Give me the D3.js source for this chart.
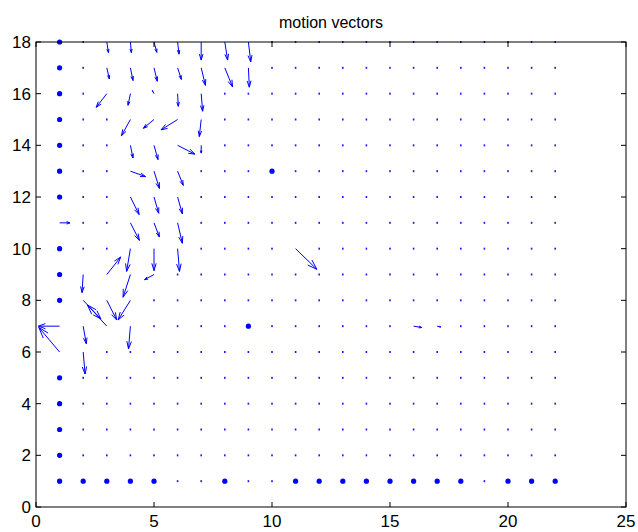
<!DOCTYPE html>
<html>
<head>
<meta charset="utf-8">
<script src="https://cdn.jsdelivr.net/npm/d3@7"></script>
<style>
  body { margin: 0; background: #fff; }
  text { font-family: "Liberation Sans", Arial, sans-serif; }
</style>
</head>
<body>
<svg width="638" height="532"></svg>
<script>
// grid of vector origins
const cols = [1,2,3,4,5,6,7,8,9,10,11,12,13,14,15,16,17,18,19,20,21,22];
const rows = [1,2,3,4,5,6,7,8,9,10,11,12,13,14,15,16,17,18];

// visible vectors: [x, y, u, v] (u, v already scaled, data units)
const vectors = [
  [3,18,0.07,-0.41],[4,18,0.04,-0.41],[5,18,0.12,-0.40],[6,18,0.06,-0.47],[7,18,0.0,-0.70],[8,18,0.12,-0.70],[9,18,0.1,-0.77],
  [3,17,0.11,-0.43],[4,17,0.11,-0.49],[5,17,0.14,-0.52],[6,17,0.16,-0.45],[7,17,0.18,-0.68],[8,17,0.33,-0.74],[9,17,0.04,-0.75],
  [3,16,-0.45,-0.53],[4,16,-0.1,-0.45],[5,16,-0.07,0.12],[6,16,0.03,-0.49],[7,16,0.06,-0.68],
  [4,15,-0.38,-0.63],[5,15,-0.45,-0.34],[6,15,-0.70,-0.40],[7,15,-0.08,-0.66],
  [4,14,0.11,-0.49],[5,14,0.17,-0.55],[6,14,0.73,-0.34],[7,14,0.0,-0.3],
  [4,13,0.64,-0.21],[5,13,0.23,-0.67],[6,13,0.24,-0.55],
  [4,12,0.37,-0.68],[5,12,0.2,-0.63],[6,12,0.2,-0.65],
  [1,11,0.44,0.0],[4,11,0.38,-0.68],[5,11,0.23,-0.55],[6,11,0.2,-0.79],
  [4,10,-0.16,-0.88],[5,10,0.0,-0.85],[6,10,0.08,-0.88],[11,10,0.9,-0.8],
  [2,9,-0.05,-0.7],[3,9,0.59,0.68],[4,9,-0.31,-0.88],[5,9,-0.4,-0.2],
  [2,8,0.75,-0.72],[3,8,0.42,-0.76],[4,8,-0.52,-0.76],
  [1,7,-0.9,0.0],[2,7,0.13,-0.68],[3,7,-0.82,0.82],[4,7,-0.08,-0.88],[16,7,0.34,-0.05],[17,7,0.15,-0.03],
  [1,6,-0.88,0.95],[2,6,0.08,-0.85]
];

// zero vectors drawn as large dots
const bigDots = [
  [1,18],[1,17],[1,16],[1,15],[1,14],[1,13],[1,12],[1,10],[1,9],[1,8],[1,5],[1,4],[1,3],[1,2],
  [1,1],[2,1],[3,1],[4,1],[5,1],[8,1],[11,1],[12,1],[13,1],[14,1],[15,1],[16,1],[17,1],[18,1],[20,1],[21,1],[22,1],
  [10,13],[9,7]
];

const xTicks = [0,5,10,15,20,25];
const yTicks = [0,2,4,6,8,10,12,14,16,18];

const svg = d3.select('svg');
const pLeft = 36, pRight = 626, pTop = 42, pBottom = 507;

const x = d3.scaleLinear().domain([0,25]).range([pLeft, pRight]);
const y = d3.scaleLinear().domain([0,18]).range([pBottom, pTop]);

const blue = '#0000ff';
const g = svg.append('g');

// small dots for near-zero vectors
const taken = new Set(vectors.map(d => d[0]+','+d[1]).concat(bigDots.map(d => d[0]+','+d[1])));
const small = [];
rows.forEach(r => cols.forEach(c => { if (!taken.has(c+','+r)) small.push([c,r]); }));

g.selectAll('.sm').data(small).enter().append('rect')
  .attr('x', d => x(d[0]) - 0.8)
  .attr('y', d => y(d[1]) - 1)
  .attr('width', 1.6).attr('height', 2)
  .attr('fill', blue).attr('opacity', 0.9);

g.selectAll('.big').data(bigDots).enter().append('circle')
  .attr('cx', d => x(d[0])).attr('cy', d => y(d[1]))
  .attr('r', 2.6).attr('fill', blue);

// matlab-style quiver arrows
const alpha = 0.33, beta = 0.33;
const line = d3.line().x(p => x(p[0])).y(p => y(p[1]));
const arrows = g.selectAll('.arr').data(vectors).enter().append('g');
arrows.append('path')
  .attr('d', d => line([[d[0], d[1]], [d[0]+d[2], d[1]+d[3]]]))
  .attr('stroke', blue).attr('stroke-width', 1).attr('fill', 'none');
arrows.append('path')
  .attr('d', d => {
    const [x0, y0, u, v] = d;
    const hx = x0 + u, hy = y0 + v;
    return line([
      [hx - alpha*(u + beta*v), hy - alpha*(v - beta*u)],
      [hx, hy],
      [hx - alpha*(u - beta*v), hy - alpha*(v + beta*u)]
    ]);
  })
  .attr('stroke', blue).attr('stroke-width', 1).attr('fill', 'none');

// box + ticks
svg.append('rect')
  .attr('x', pLeft).attr('y', pTop)
  .attr('width', pRight - pLeft).attr('height', pBottom - pTop)
  .attr('fill', 'none').attr('stroke', '#000').attr('stroke-width', 1);

const tl = 5;
svg.append('g').selectAll('line').data(xTicks).enter().append('line')
  .attr('x1', d => x(d)).attr('x2', d => x(d))
  .attr('y1', pBottom).attr('y2', pBottom - tl).attr('stroke', '#000');
svg.append('g').selectAll('line').data(xTicks).enter().append('line')
  .attr('x1', d => x(d)).attr('x2', d => x(d))
  .attr('y1', pTop).attr('y2', pTop + tl).attr('stroke', '#000');
svg.append('g').selectAll('line').data(yTicks).enter().append('line')
  .attr('x1', pLeft).attr('x2', pLeft + tl)
  .attr('y1', d => y(d)).attr('y2', d => y(d)).attr('stroke', '#000');
svg.append('g').selectAll('line').data(yTicks).enter().append('line')
  .attr('x1', pRight).attr('x2', pRight - tl)
  .attr('y1', d => y(d)).attr('y2', d => y(d)).attr('stroke', '#000');

svg.append('g').selectAll('text').data(xTicks).enter().append('text')
  .attr('x', d => x(d)).attr('y', pBottom + 20)
  .attr('text-anchor', 'middle').attr('font-size', 17)
  .text(d => d);
svg.append('g').selectAll('text').data(yTicks).enter().append('text')
  .attr('x', pLeft - 5).attr('y', d => y(d) + 6)
  .attr('text-anchor', 'end').attr('font-size', 17)
  .text(d => d);

svg.append('text')
  .attr('x', (pLeft + pRight) / 2).attr('y', 28)
  .attr('text-anchor', 'middle').attr('font-size', 16)
  .text('motion vectors');
</script>
</body>
</html>
